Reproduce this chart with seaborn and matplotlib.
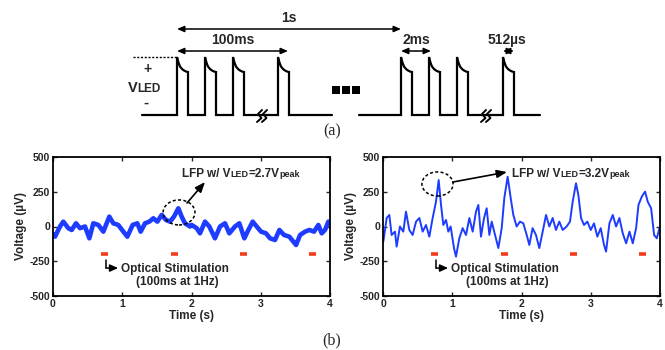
import matplotlib
matplotlib.use("Agg")
import matplotlib.pyplot as plt
from matplotlib.patches import Ellipse
import pandas as pd
import seaborn as sns

W, H = 665, 350

# ---- LFP traces (time in s, voltage in uV) ----
t_left = [0.0, 0.029, 0.101, 0.149, 0.221, 0.27, 0.332, 0.39, 0.462, 0.525, 0.582,
          0.655, 0.727, 0.813, 0.871, 0.943, 1.016, 1.073, 1.15, 1.218, 1.266,
          1.329, 1.391, 1.449, 1.507, 1.569, 1.632, 1.69, 1.747, 1.81, 1.858,
          1.906, 1.978, 2.002, 2.075, 2.123, 2.195, 2.257, 2.339, 2.412, 2.484,
          2.546, 2.628, 2.691, 2.763, 2.821, 2.884, 2.941, 3.004, 3.076, 3.134,
          3.206, 3.269, 3.336, 3.413, 3.471, 3.51, 3.568, 3.64, 3.702, 3.769,
          3.832, 3.88, 3.928, 3.976, 4.0]
v_left = [-55, -73, 0, 35, -12, -25, 23, -12, 0, -85, 23,
          11, -37, 71, 23, 11, -37, -73, 11, 23, -37,
          23, 35, 59, 35, 83, 47, 35, 71, 131, 71,
          23, 0, 11, -12, -49, 35, 0, -85, 0, 23,
          -49, 0, 23, -85, -25, 35, 0, -37, -49, -85,
          -97, -25, -61, -73, -109, -133, -61, -37, -25, -37,
          11, -49, -25, 35, 30]

t_right = [0.005, 0.053, 0.091, 0.125, 0.173, 0.197, 0.245, 0.293, 0.332, 0.38,
           0.428, 0.477, 0.525, 0.573, 0.621, 0.669, 0.717, 0.765, 0.804, 0.838,
           0.871, 0.91, 0.943, 0.977, 1.025, 1.054, 1.102, 1.15, 1.199, 1.247,
           1.295, 1.343, 1.377, 1.415, 1.459, 1.497, 1.536, 1.57, 1.618, 1.666,
           1.714, 1.752, 1.8, 1.844, 1.882, 1.93, 1.978, 2.026, 2.075, 2.113,
           2.16, 2.209, 2.257, 2.306, 2.354, 2.402, 2.45, 2.498, 2.546, 2.595,
           2.652, 2.7, 2.739, 2.787, 2.821, 2.86, 2.903, 2.951, 3.0, 3.047,
           3.095, 3.144, 3.192, 3.221, 3.27, 3.318, 3.366, 3.414, 3.462, 3.511,
           3.559, 3.607, 3.655, 3.689, 3.737, 3.785, 3.823, 3.872, 3.915, 3.954,
           3.992]
v_right = [-109, 61, 83, -61, -37, -145, 0, -37, 107, -25,
           -61, 35, 61, -37, 11, -73, 61, 178, 334, 155,
           11, 47, -37, 0, -155, -217, -85, -12, -61, 61,
           -37, 107, 155, -73, 61, 131, -61, 35, -61, -155,
           -12, 205, 358, 205, 83, 0, 35, 23, -61, -133,
           -12, -61, -155, -37, 83, 0, 61, -25, 35, -25,
           0, 35, 178, 311, 227, 61, 11, 35, -25, 23,
           -73, -12, -133, -181, 23, 83, 0, 61, -49, -121,
           -37, -121, -12, 155, 215, 251, 178, 131, -61, -85,
           -12]

stim_on = [0.7, 1.7, 2.7, 3.7]
stim_dur = 0.1
stim_level = -200
x_ticks = [0, 1, 2, 3, 4]
y_ticks = [-500, -250, 0, 250, 500]

# ---- pulse diagram (a), in figure pixels ----
pulse_x_a = [177, 205, 233, 278]
pulse_x_b = [401, 429, 457, 503]
decay_dx = [0, 1, 2, 3, 5, 7, 9, 11]
decay_dy = [0, 4, 7, 9.5, 12, 13.5, 14.5, 15]
base_y, top_y = 115, 57
break_x = [262, 486]

# shape of one squiggle of the "break" mark
SQ_DX = [2.5, -1.5, 2, -2.5]
SQ_DY = [-6, -2, 2, 6]

sns.set_theme(style="ticks")
plt.rcParams["font.family"] = ["Liberation Sans", "DejaVu Sans"]
plt.rcParams["font.weight"] = "bold"
plt.rcParams["axes.unicode_minus"] = False

fig = plt.figure(figsize=(W / 100, H / 100), dpi=100)

# overlay axes in pixel coords for the schematic
ov = fig.add_axes([0, 0, 1, 1])
ov.set_xlim(0, W)
ov.set_ylim(H, 0)
ov.axis("off")


def waveform(x_start, x_end, pulses):
    xs, ys = [x_start], [base_y]
    for p in pulses:
        xs += [p, p]
        ys += [base_y, top_y]
        xs += [p + d for d in decay_dx]
        ys += [top_y + d for d in decay_dy]
        xs += [p + decay_dx[-1]]
        ys += [base_y]
    xs.append(x_end)
    ys.append(base_y)
    return xs, ys


for seg in [(142, 332, pulse_x_a), (359, 540, pulse_x_b)]:
    xs, ys = waveform(*seg)
    ov.plot(xs, ys, color="black", lw=1.6, solid_joinstyle="miter")

ov.plot([133, 177], [top_y, top_y], color="black", lw=1.0, ls=(0, (1.5, 1.2)))
ov.scatter([336, 346, 356], [90, 90, 90], marker="s", s=30, color="black",
           linewidths=0)
for bx in break_x:
    for off in (-2.5, 2.5):
        ov.plot([bx + off + d for d in SQ_DX], [base_y + 1 + d for d in SQ_DY],
                color="black", lw=1.4, solid_joinstyle="round", zorder=5)


def dim_arrow(x0, x1, y, label, lx):
    ov.annotate("", xy=(x0, y), xytext=(x1, y),
                arrowprops=dict(arrowstyle="<|-|>,head_length=0.35,head_width=0.15",
                                color="black", lw=1.1, shrinkA=0, shrinkB=0))
    ov.text(lx, y - 11, label, fontsize=10, fontweight="bold",
            ha="center", va="center")


dim_arrow(177, 401, 29, "1s", 289)
dim_arrow(177, 288, 51, "100ms", 233)
dim_arrow(401, 431, 51, "2ms", 416)
dim_arrow(503, 514, 51, "512\u00b5s", 507)

ov.text(147, 69, "+", fontsize=10, fontweight="bold", ha="center", va="center")
ov.text(146, 103, "-", fontsize=11, fontweight="bold", ha="center", va="center")

renderer = fig.canvas.get_renderer()


def rich_text(x, y, pieces):
    for s, size in pieces:
        t = fig.text(x / W, 1 - y / H, s, fontsize=size, fontweight="bold",
                     ha="left", va="baseline")
        x += t.get_window_extent(renderer).width


rich_text(128, 92, [("V", 10.5), ("LED", 8.5)])
fig.text(332 / W, 1 - 131 / H, "(a)", family="Liberation Serif", fontsize=11.5,
         fontweight="normal", ha="center", va="center")
fig.text(332 / W, 1 - 340 / H, "(b)", family="Liberation Serif", fontsize=11.5,
         fontweight="normal", ha="center", va="center")

# ---- LFP panels (b) ----
panels = [
    dict(left=53, t=t_left, v=v_left, lw=3.3, vled="2.7",
         ell=(1.82, 101, 0.46, 180), arr=((1.935, 169), (2.195, 320))),
    dict(left=383, t=t_right, v=v_right, lw=1.4, vled="3.2",
         ell=(0.787, 306, 0.45, 173), arr=((1.01, 320), (1.79, 392))),
]

for p in panels:
    ax = fig.add_axes([p["left"] / W, 1 - 296 / H, 277 / W, 139 / H])
    df = pd.DataFrame({"t": p["t"], "v": p["v"]})
    sns.lineplot(data=df, x="t", y="v", ax=ax, color="#1e3cff", lw=p["lw"],
                 estimator=None, sort=False)
    for s in stim_on:
        ax.plot([s, s + stim_dur], [stim_level, stim_level], color="#f23a1c",
                lw=2.6, solid_capstyle="butt")
    ax.set_xlim(0, 4)
    ax.set_ylim(-500, 500)
    ax.set_xticks(x_ticks)
    ax.set_yticks(y_ticks)
    ax.tick_params(direction="in", length=3, width=1, top=True, right=True,
                   labelsize=7.5, pad=2)
    for lab in ax.get_xticklabels() + ax.get_yticklabels():
        lab.set_fontweight("bold")
    for sp in ax.spines.values():
        sp.set_linewidth(1.3)
        sp.set_color("black")
    ax.set_xlabel("Time (s)", fontsize=8.5, fontweight="bold", labelpad=1)
    ax.set_ylabel("Voltage (\u00b5V)", fontsize=8.5, fontweight="bold", labelpad=2)

    cx, cy, ew, eh = p["ell"]
    ax.add_patch(Ellipse((cx, cy), ew, eh, fill=False, ec="black", lw=1.1,
                         ls=(0, (2, 1.5)), zorder=5))
    ax.annotate("", xy=p["arr"][1], xytext=p["arr"][0],
                arrowprops=dict(arrowstyle="-|>,head_length=0.5,head_width=0.2",
                                color="black", lw=1.2, shrinkA=0, shrinkB=0))
    rich_text(p["left"] + 129, 177, [("LFP w/ V", 8.5), ("LED", 6.5),
                                     ("=" + p["vled"] + "V", 8.5), ("peak", 6.5)])

    ax.plot([0.765, 0.765], [-241, -299], color="black", lw=1.1)
    ax.annotate("", xy=(0.94, -299), xytext=(0.765, -299),
                arrowprops=dict(arrowstyle="-|>,head_length=0.4,head_width=0.18",
                                color="black", lw=1.1, shrinkA=0, shrinkB=0))
    ax.text(0.98, -306, "Optical Stimulation", fontsize=8.5, fontweight="bold",
            ha="left", va="center")
    ax.text(1.79, -400, "(100ms at 1Hz)", fontsize=8.5, fontweight="bold",
            ha="center", va="center")

fig.savefig("out.png", dpi=100)
